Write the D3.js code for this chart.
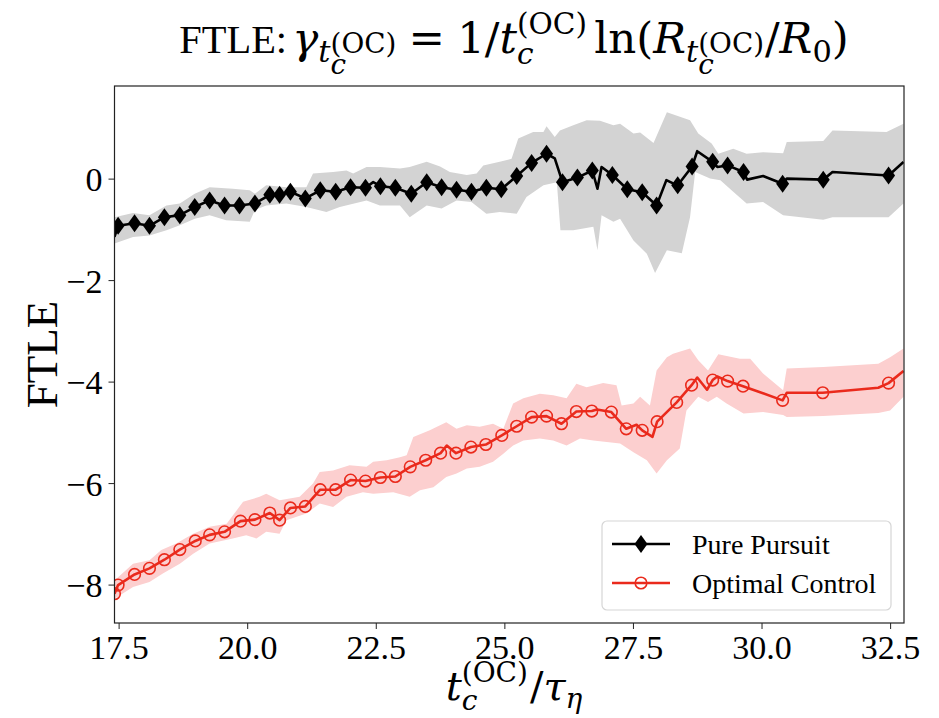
<!DOCTYPE html>
<html>
<head>
<meta charset="utf-8">
<script src="https://cdn.jsdelivr.net/npm/d3@7"></script>
<style>
  body { margin: 0; background: #fff; }
  svg { display: block; font-family: "Liberation Serif", "Times New Roman", serif; }
</style>
</head>
<body>
<svg id="chart" width="939" height="718"></svg>
<script>
'use strict';

// axis ranges and ticks
var xMin = 17.42, xMax = 32.77,
	yMin = -8.757, yMax = 1.825,
	xTicks = [17.5, 20, 22.5, 25, 27.5, 30, 32.5],
	yTicks = [0, -2, -4, -6, -8];

// Pure Pursuit: line (mark = 1 where a diamond is drawn)
var ppX = [17.42,17.49,17.81,18.10,18.39,18.69,18.98,19.27,19.56,19.85,20.15,20.44,20.63,20.84,21.13,21.42,21.72,22.01,22.30,22.45,22.59,22.88,23.19,23.49,23.78,24.07,24.36,24.65,24.94,25.24,25.53,25.82,25.98,26.13,26.42,26.71,26.81,26.89,27.10,27.39,27.68,27.96,28.15,28.27,28.37,28.65,28.75,29.05,29.14,29.34,29.65,29.72,30.03,30.41,30.49,31.20,31.38,32.47,32.76];
var ppY = [-1.15,-0.93,-0.88,-0.93,-0.76,-0.72,-0.56,-0.43,-0.53,-0.53,-0.49,-0.32,-0.32,-0.26,-0.39,-0.23,-0.26,-0.17,-0.18,-0.07,-0.15,-0.18,-0.30,-0.07,-0.17,-0.22,-0.26,-0.18,-0.21,0.05,0.31,0.49,0.40,-0.07,0.02,0.16,-0.20,0.23,0.07,-0.21,-0.27,-0.53,-0.03,-0.09,-0.13,0.24,0.54,0.33,0.23,0.26,0.13,-0.02,0.05,-0.10,0.00,-0.02,0.13,0.06,0.33];
var ppMark = [0,1,1,1,1,1,1,1,1,1,1,1,1,1,1,1,1,1,1,0,1,1,1,1,1,1,1,1,1,1,1,1,0,1,1,1,0,0,1,1,1,1,0,0,1,1,0,1,0,1,1,0,0,1,0,1,0,1,0];

// Pure Pursuit: shaded band edges
var ppHiX = [17.42,17.78,18.10,18.43,18.69,18.98,19.27,19.72,20.05,20.15,20.37,20.76,21.15,21.28,21.67,21.93,22.06,22.32,22.58,22.97,23.16,23.49,23.75,23.94,24.27,24.46,24.59,24.91,25.14,25.27,25.56,25.76,25.82,25.98,26.08,26.34,26.60,26.86,27.12,27.25,27.51,27.64,27.90,28.16,28.61,28.77,29.03,29.16,29.45,29.71,30.03,30.42,30.49,31.20,31.38,32.43,32.76];
var ppHiY = [-0.76,-0.68,-0.72,-0.53,-0.49,-0.30,-0.17,-0.20,-0.23,-0.30,-0.13,-0.17,-0.17,0.10,0.13,0.16,0.10,0.23,0.23,0.20,0.23,0.33,0.24,0.13,0.07,0.10,0.26,0.33,0.39,0.79,0.92,0.92,1.03,0.82,0.95,1.05,1.15,1.14,1.05,1.08,0.89,0.91,0.70,1.31,1.15,0.89,0.69,0.49,0.59,0.49,0.52,0.50,0.72,0.74,0.95,0.92,1.08];
var ppLoX = [17.42,17.78,18.10,18.43,18.69,18.98,19.27,19.59,20.05,20.15,20.37,20.76,21.15,21.54,21.80,22.32,22.58,22.97,23.16,23.49,23.78,24.07,24.36,24.65,24.91,25.24,25.43,25.76,26.02,26.09,26.34,26.73,26.81,26.89,27.12,27.25,27.51,27.77,27.93,28.16,28.45,28.61,28.71,29.00,29.20,29.45,29.71,30.03,30.42,31.20,31.38,32.47,32.76];
var ppLoY = [-1.28,-1.15,-1.12,-1.02,-0.92,-0.79,-0.72,-0.82,-0.85,-0.62,-0.53,-0.49,-0.56,-0.66,-0.56,-0.43,-0.53,-0.53,-0.76,-0.53,-0.59,-0.43,-0.46,-0.69,-0.66,-0.69,-0.36,-0.13,-0.07,-1.02,-1.02,-0.95,-1.41,-0.72,-0.85,-0.79,-1.22,-1.48,-1.86,-1.41,-1.47,-0.76,0.13,0.00,-0.03,-0.26,-0.49,-0.46,-0.72,-0.81,-0.76,-0.76,-0.49];

// Optimal Control: line (mark = 1 where a circle is drawn)
var ocX = [17.42,17.49,17.81,18.10,18.39,18.69,18.99,19.27,19.56,19.87,20.15,20.44,20.63,20.84,21.13,21.42,21.72,22.01,22.30,22.59,22.88,23.17,23.47,23.76,23.88,24.06,24.35,24.64,24.95,25.24,25.53,25.82,26.11,26.40,26.70,26.80,27.08,27.37,27.57,27.68,27.88,27.97,28.35,28.64,28.75,28.94,29.05,29.14,29.34,29.64,30.41,30.49,31.19,32.27,32.47,32.76];
var ocY = [-8.18,-8.01,-7.80,-7.68,-7.51,-7.31,-7.14,-7.02,-6.96,-6.75,-6.72,-6.59,-6.73,-6.49,-6.46,-6.13,-6.13,-5.94,-5.96,-5.89,-5.87,-5.68,-5.55,-5.41,-5.26,-5.41,-5.29,-5.24,-5.06,-4.88,-4.70,-4.68,-4.83,-4.59,-4.58,-4.55,-4.60,-4.93,-4.85,-4.96,-5.09,-4.79,-4.41,-4.07,-3.92,-4.16,-3.97,-3.90,-3.99,-4.09,-4.37,-4.22,-4.22,-4.12,-4.03,-3.79];
var ocMark = [1,1,1,1,1,1,1,1,1,1,1,1,1,1,1,1,1,1,1,1,1,1,1,1,0,1,1,1,1,1,1,1,1,1,1,0,1,1,0,1,0,1,1,1,0,0,1,0,1,1,1,0,1,0,1,0];

// Optimal Control: shaded band edges
var ocHiX = [17.42,17.78,18.10,18.33,18.62,18.95,19.27,19.60,19.92,20.24,20.37,20.63,21.02,21.28,21.41,21.67,21.99,22.32,22.45,22.71,22.97,23.10,23.23,23.55,23.87,24.07,24.27,24.52,24.78,24.98,25.17,25.37,25.69,25.95,26.21,26.40,26.60,26.92,27.18,27.28,27.51,27.64,27.83,27.96,28.16,28.28,28.61,28.77,28.96,29.16,29.58,29.78,30.03,30.42,30.49,31.20,32.27,32.50,32.76];
var ocHiY = [-7.92,-7.59,-7.52,-7.32,-7.19,-7.00,-6.86,-6.80,-6.37,-6.27,-6.21,-6.34,-6.27,-6.01,-5.78,-5.75,-5.65,-5.68,-5.58,-5.55,-5.49,-5.45,-5.09,-4.96,-4.80,-4.93,-4.86,-4.89,-4.83,-4.93,-4.43,-4.33,-4.24,-4.27,-4.33,-4.04,-4.11,-4.03,-4.07,-4.47,-4.43,-4.30,-4.47,-3.78,-3.52,-3.45,-3.35,-3.58,-3.78,-3.46,-3.55,-3.55,-3.84,-4.17,-3.74,-3.71,-3.65,-3.52,-3.35];
var ocLoX = [17.42,17.78,18.10,18.36,18.69,18.95,19.27,19.72,19.98,20.18,20.37,20.63,20.76,21.15,21.41,21.67,21.93,22.25,22.45,22.84,23.16,23.36,23.62,23.87,24.07,24.27,24.52,24.78,24.98,25.17,25.37,25.69,25.95,26.21,26.47,26.73,26.99,27.25,27.51,27.77,27.96,28.16,28.41,28.54,28.77,28.96,29.13,29.32,29.65,30.03,30.42,30.49,31.20,32.27,32.50,32.76];
var ocLoY = [-8.28,-8.05,-7.95,-7.78,-7.59,-7.39,-7.19,-7.09,-7.03,-7.09,-6.96,-7.00,-6.73,-6.60,-6.40,-6.47,-6.27,-6.18,-6.21,-6.18,-6.27,-6.14,-6.08,-5.88,-5.81,-5.71,-5.68,-5.58,-5.42,-5.26,-5.16,-5.12,-5.16,-5.26,-5.12,-5.16,-5.19,-5.22,-5.39,-5.55,-5.81,-5.55,-5.32,-4.57,-4.30,-4.40,-4.30,-4.43,-4.63,-4.60,-4.66,-4.70,-4.68,-4.62,-4.57,-4.30];

var legendLabels = ['Pure Pursuit', 'Optimal Control'];

//layout
var margin = {left: 114.5, right: 35, top: 86, bottom: 95},
	W = 939, H = 718,
	black = '#000', red = '#ea2a1c',
	grayBand = '#d3d3d3', redBand = '#fccfcf',
	textFont = '"Liberation Serif", serif',
	mathFont = '"DejaVu Serif", serif';

var svg = d3.select('#chart');

var x = d3.scaleLinear().domain([xMin, xMax]).range([margin.left, W - margin.right]);
var y = d3.scaleLinear().domain([yMax, yMin]).range([margin.top, H - margin.bottom]);

svg.append('clipPath').attr('id', 'plotclip')
	.append('rect')
	.attr('x', x(xMin)).attr('y', y(yMax))
	.attr('width', x(xMax) - x(xMin)).attr('height', y(yMin) - y(yMax));

var plot = svg.append('g').attr('clip-path', 'url(#plotclip)');

var line = d3.line().x(function(d) { return x(d[0]); }).y(function(d) { return y(d[1]); });

function band(hiX, hiY, loX, loY) {
	var pts = d3.zip(hiX, hiY).concat(d3.zip(loX, loY).reverse());
	return line(pts) + 'Z';
}

function diamond(g, cx, cy) {
	g.append('path')
		.attr('d', 'M0,-9L6.5,0L0,9L-6.5,0Z')
		.attr('transform', 'translate(' + cx + ',' + cy + ')')
		.attr('fill', black);
}

function ring(g, cx, cy) {
	g.append('circle')
		.attr('cx', cx).attr('cy', cy).attr('r', 5.8)
		.attr('fill', 'none').attr('stroke', red).attr('stroke-width', 1.6);
}

// Pure Pursuit
plot.append('path').attr('d', band(ppHiX, ppHiY, ppLoX, ppLoY)).attr('fill', grayBand);
plot.append('path').attr('d', line(d3.zip(ppX, ppY)))
	.attr('fill', 'none').attr('stroke', black).attr('stroke-width', 2.6).attr('stroke-linejoin', 'round');
ppX.forEach(function(v, i) {
	if (ppMark[i]) diamond(plot, x(v), y(ppY[i]));
});

// Optimal Control
plot.append('path').attr('d', band(ocHiX, ocHiY, ocLoX, ocLoY)).attr('fill', redBand);
plot.append('path').attr('d', line(d3.zip(ocX, ocY)))
	.attr('fill', 'none').attr('stroke', red).attr('stroke-width', 2.6).attr('stroke-linejoin', 'round');
ocX.forEach(function(v, i) {
	if (ocMark[i]) ring(plot, x(v), y(ocY[i]));
});

// axes
var xAxis = svg.append('g')
	.attr('transform', 'translate(0,' + y(yMin) + ')')
	.call(d3.axisBottom(x).tickValues(xTicks).tickFormat(d3.format('.1f')).tickSize(6).tickPadding(6));
var yAxis = svg.append('g')
	.attr('transform', 'translate(' + x(xMin) + ',0)')
	.call(d3.axisLeft(y).tickValues(yTicks).tickFormat(d3.format('d')).tickSize(6).tickPadding(6));

[xAxis, yAxis].forEach(function(a) {
	a.select('.domain').remove();
	a.selectAll('.tick line').attr('stroke', '#222').attr('stroke-width', 1);
	a.selectAll('.tick text').attr('fill', '#000')
		.style('font-family', textFont).style('font-size', '34px');
});
yAxis.selectAll('.tick text').attr('dy', '0.36em');

// frame
svg.append('rect')
	.attr('x', x(xMin)).attr('y', y(yMax))
	.attr('width', x(xMax) - x(xMin)).attr('height', y(yMin) - y(yMax))
	.attr('fill', 'none').attr('stroke', '#222').attr('stroke-width', 1.2);

// math-like label: one <text>, one tspan per piece, stacked scripts share x
function mathText(parent, parts, size, cx, baseY) {
	var txt = parent.append('text').attr('fill', '#000'), pos = 0;
	parts.forEach(function(p) {
		var list = p.stack || [p], w = 0;
		list.forEach(function(q) {
			var t = txt.append('tspan')
				.attr('x', pos).attr('y', q.dy || 0)
				.style('font-family', q.f === 'text' ? textFont : mathFont)
				.style('font-size', (q.s || 1) * size + 'px')
				.style('font-style', q.i ? 'italic' : 'normal')
				.text(q.t);
			w = Math.max(w, t.node().getComputedTextLength());
		});
		pos += w + (p.gap || 0) * size;
	});
	txt.attr('transform', 'translate(' + (cx - pos / 2) + ',' + baseY + ')');
	return txt;
}

var cx = 514;

mathText(svg, [
	{t: 'FTLE:', f: 'text', s: 0.93, gap: 0.12},
	{t: 'γ', i: 1},
	{t: 't', i: 1, s: 0.7, dy: 9},
	{stack: [{t: '(OC)', s: 0.64, dy: 0}, {t: 'c', i: 1, s: 0.64, dy: 21}], gap: 0.28},
	{t: '=', gap: 0.28},
	{t: '1/'},
	{t: 't', i: 1},
	{stack: [{t: '(OC)', s: 0.68, dy: -19}, {t: 'c', i: 1, s: 0.68, dy: 11}], gap: 0.17},
	{t: 'ln('},
	{t: 'R', i: 1},
	{t: 't', i: 1, s: 0.7, dy: 9},
	{stack: [{t: '(OC)', s: 0.64, dy: 0}, {t: 'c', i: 1, s: 0.64, dy: 21}], gap: 0.02},
	{t: '/'},
	{t: 'R', i: 1},
	{t: '0', s: 0.7, dy: 9},
	{t: ')'}
], 43.5, cx, 53);

mathText(svg, [
	{t: 't', i: 1},
	{stack: [{t: '(OC)', s: 0.7, dy: -18}, {t: 'c', i: 1, s: 0.7, dy: 10}], gap: 0.05},
	{t: '/'},
	{t: 'τ', i: 1},
	{t: 'η', i: 1, s: 0.7, dy: 8}
], 40, cx, 700);

svg.append('text')
	.attr('transform', 'translate(57,' + ((y(yMin) + y(yMax)) / 2) + ') rotate(-90)')
	.attr('text-anchor', 'middle')
	.attr('font-size', 45)
	.attr('fill', '#000')
	.text('FTLE');

// legend
var lg = svg.append('g').attr('transform', 'translate(602,521)');
lg.append('rect')
	.attr('width', 289).attr('height', 89).attr('rx', 5)
	.attr('fill', '#fff').attr('fill-opacity', 0.85)
	.attr('stroke', '#d6d6d6').attr('stroke-width', 1.2);

legendLabels.forEach(function(lab, i) {
	var ly = 23 + i * 39,
		col = i === 0 ? black : red;
	lg.append('line').attr('x1', 10).attr('x2', 68).attr('y1', ly).attr('y2', ly)
		.attr('stroke', col).attr('stroke-width', 2.6);
	if (i === 0) diamond(lg, 39, ly); else ring(lg, 39, ly);
	lg.append('text').attr('x', 90).attr('y', ly).attr('dy', '0.35em')
		.attr('font-size', 28).attr('fill', '#000').text(lab);
});
</script>
</body>
</html>
